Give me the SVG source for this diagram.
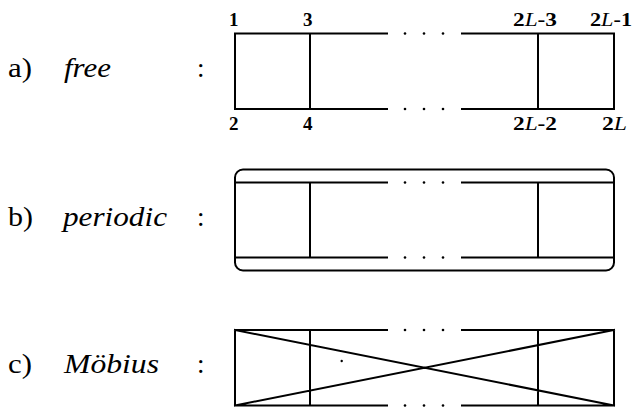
<svg xmlns="http://www.w3.org/2000/svg" width="634" height="407" viewBox="0 0 634 407">
<style>
.ln{stroke:#000;stroke-width:2;fill:none;stroke-linecap:square}
.dot{fill:#000}
.lbl{font-family:"Liberation Serif","DejaVu Serif",serif;font-size:27px;fill:#000}
.it{font-style:italic}
.num{font-family:"Liberation Serif","DejaVu Serif",serif;font-size:19px;fill:#000;font-weight:bold}
.mi{font-style:italic;font-weight:normal}
</style>
<rect width="634" height="407" fill="#fff"/>
<g id="labels">
<text class="lbl" x="8" y="77" textLength="24" lengthAdjust="spacingAndGlyphs">a)</text>
<text class="lbl it" x="64" y="77" textLength="47" lengthAdjust="spacingAndGlyphs">free</text>
<text class="lbl" x="197" y="77">:</text>
<text class="lbl" x="8" y="225.5" textLength="25" lengthAdjust="spacingAndGlyphs">b)</text>
<text class="lbl it" x="63" y="225.5" textLength="104" lengthAdjust="spacingAndGlyphs">periodic</text>
<text class="lbl" x="197" y="225.5">:</text>
<text class="lbl" x="8" y="372.5" textLength="24" lengthAdjust="spacingAndGlyphs">c)</text>
<text class="lbl it" x="64" y="372.5" textLength="95" lengthAdjust="spacingAndGlyphs">Möbius</text>
<text class="lbl" x="197" y="372.5">:</text>
</g>
<g id="free">
<path class="ln" d="M235 33.5H387M462 33.5H614M235 109H387M462 109H614M235 33.5V109M310 33.5V109M538 33.5V109M614 33.5V109"/>
<circle class="dot" cx="405" cy="33.5" r="1.3"/><circle class="dot" cx="424" cy="33.5" r="1.3"/><circle class="dot" cx="443" cy="33.5" r="1.3"/>
<circle class="dot" cx="405" cy="109" r="1.3"/><circle class="dot" cx="424" cy="109" r="1.3"/><circle class="dot" cx="443" cy="109" r="1.3"/>
<text class="num" x="229" y="26">1</text>
<text class="num" x="303" y="26">3</text>
<text class="num" x="513" y="26" textLength="44" lengthAdjust="spacingAndGlyphs">2<tspan class="mi">L</tspan>-3</text>
<text class="num" x="590" y="26" textLength="42" lengthAdjust="spacingAndGlyphs">2<tspan class="mi">L</tspan>-1</text>
<text class="num" x="229" y="130">2</text>
<text class="num" x="303" y="130">4</text>
<text class="num" x="513" y="130" textLength="44" lengthAdjust="spacingAndGlyphs">2<tspan class="mi">L</tspan>-2</text>
<text class="num" x="602" y="130" textLength="25" lengthAdjust="spacingAndGlyphs">2<tspan class="mi">L</tspan></text>
</g>
<g id="periodic">
<rect class="ln" x="235" y="169.5" width="379" height="101" rx="8" ry="8"/>
<path class="ln" d="M235 182.5H387M462 182.5H614M235 257.5H387M462 257.5H614M310 182.5V257.5M538 182.5V257.5"/>
<circle class="dot" cx="405" cy="182.5" r="1.3"/><circle class="dot" cx="424" cy="182.5" r="1.3"/><circle class="dot" cx="443" cy="182.5" r="1.3"/>
<circle class="dot" cx="405" cy="257.5" r="1.3"/><circle class="dot" cx="424" cy="257.5" r="1.3"/><circle class="dot" cx="443" cy="257.5" r="1.3"/>
</g>
<g id="mobius">
<path class="ln" d="M235 330H387M462 330H614M235 405.5H387M462 405.5H614M235 330V405.5M310 330V405.5M538 330V405.5M614 330V405.5M235 330L614 405.5M235 405.5L614 330"/>
<circle class="dot" cx="405" cy="330" r="1.3"/><circle class="dot" cx="424" cy="330" r="1.3"/><circle class="dot" cx="443" cy="330" r="1.3"/>
<circle class="dot" cx="405" cy="405.5" r="1.3"/><circle class="dot" cx="424" cy="405.5" r="1.3"/><circle class="dot" cx="443" cy="405.5" r="1.3"/>
<circle class="dot" cx="341.7" cy="361" r="1.2"/>
</g>
</svg>
